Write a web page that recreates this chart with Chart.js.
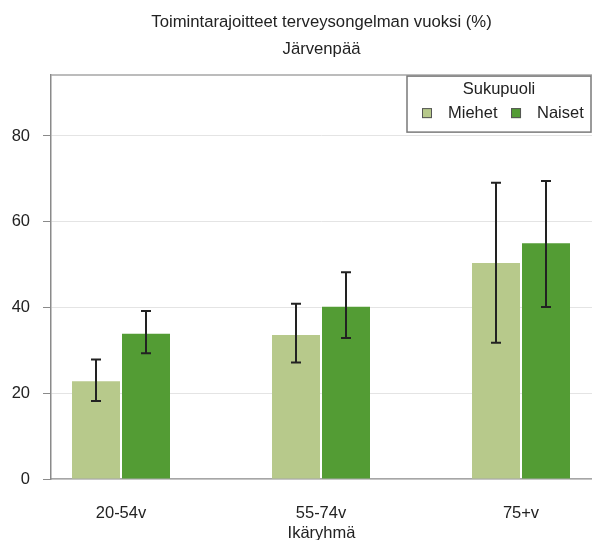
<!DOCTYPE html>
<html>
<head>
<meta charset="utf-8">
<script src="https://cdn.jsdelivr.net/npm/chart.js@4"></script>
<style>
  body { margin: 0; background: #fff; }
  #wrap { width: 592px; height: 540px; }
</style>
</head>
<body>
<div id="wrap"><canvas id="chart"></canvas></div>
<script>
// Values
const categories = ['20-54v', '55-74v', '75+v'];
const seriesLabels = ['Miehet', 'Naiset'];
const miehet = [22.8, 33.6, 50.4];
const miehetLow = [18.2, 27.2, 31.8];
const miehetHigh = [27.9, 40.9, 69.1];
const naiset = [33.9, 40.2, 55.0];
const naisetLow = [29.3, 32.9, 40.1];
const naisetHigh = [39.2, 48.2, 69.5];
const yTicks = [0, 20, 40, 60, 80];
const titleLines = ['Toimintarajoitteet terveysongelman vuoksi (%)', 'Järvenpää'];
const xTitle = 'Ikäryhmä';
const legendTitle = 'Sukupuoli';

const colors = ['#b7c98b', '#539c34'];
const FAMILY = "'Liberation Sans', Arial, sans-serif";
const FONT = { family: FAMILY, size: 16.5 };
const TEXT = '#222';

const toPoints = arr => arr.map((v, i) => ({ x: i, y: v }));

// confidence interval whiskers
const errorBars = {
  id: 'errorBars',
  afterDatasetsDraw(chart) {
    const ctx = chart.ctx;
    const y = chart.scales.y;
    chart.data.datasets.forEach((ds, di) => {
      const meta = chart.getDatasetMeta(di);
      meta.data.forEach((bar, i) => {
        const top = y.getPixelForValue(ds.high[i]);
        const bottom = y.getPixelForValue(ds.low[i]);
        ctx.save();
        ctx.strokeStyle = '#222';
        ctx.lineWidth = 2;
        ctx.beginPath();
        ctx.moveTo(bar.x, top); ctx.lineTo(bar.x, bottom);
        ctx.moveTo(bar.x - 5, top); ctx.lineTo(bar.x + 5, top);
        ctx.moveTo(bar.x - 5, bottom); ctx.lineTo(bar.x + 5, bottom);
        ctx.stroke();
        ctx.restore();
      });
    });
  }
};

// top edge of the plot frame
const frame = {
  id: 'frame',
  beforeDatasetsDraw(chart) {
    const { ctx, chartArea: a } = chart;
    ctx.save();
    ctx.strokeStyle = '#a6a6a6';
    ctx.lineWidth = 1.5;
    ctx.beginPath();
    ctx.moveTo(a.left, a.top);
    ctx.lineTo(a.right, a.top);
    ctx.stroke();
    ctx.restore();
  }
};

// boxed legend inside the plot, top right
const boxLegend = {
  id: 'boxLegend',
  afterDraw(chart) {
    const { ctx, chartArea } = chart;
    const w = 184, h = 56;
    const left = chartArea.right - w - 1, top = chartArea.top + 1;
    ctx.save();
    ctx.fillStyle = '#fff';
    ctx.fillRect(left, top, w, h);
    ctx.strokeStyle = '#7a7a7a';
    ctx.lineWidth = 1.5;
    ctx.strokeRect(left, top, w, h);
    ctx.font = `16.5px ${FAMILY}`;
    ctx.fillStyle = TEXT;
    ctx.textBaseline = 'middle';
    ctx.textAlign = 'center';
    ctx.fillText(legendTitle, left + w / 2, top + 13);
    ctx.textAlign = 'left';
    let x = left + 15;
    const yMid = top + 37;
    chart.data.datasets.forEach(ds => {
      ctx.fillStyle = ds.backgroundColor;
      ctx.fillRect(x, yMid - 5, 10, 10);
      ctx.strokeStyle = '#555';
      ctx.lineWidth = 1;
      ctx.strokeRect(x + 0.5, yMid - 4.5, 9, 9);
      ctx.fillStyle = TEXT;
      ctx.fillText(ds.label, x + 26, yMid);
      x += 26 + ctx.measureText(ds.label).width + 13.5;
    });
    ctx.restore();
  }
};

new Chart(document.getElementById('chart'), {
  type: 'bar',
  data: {
    datasets: [
      { label: seriesLabels[0], data: toPoints(miehet), low: miehetLow, high: miehetHigh, backgroundColor: colors[0] },
      { label: seriesLabels[1], data: toPoints(naiset), low: naisetLow, high: naisetHigh, backgroundColor: colors[1] }
    ]
  },
  options: {
    responsive: true,
    maintainAspectRatio: false,
    animation: false,
    layout: { padding: 0 },
    categoryPercentage: 0.5,
    barPercentage: 0.96,
    plugins: {
      legend: { display: false },
      tooltip: { enabled: false },
      title: {
        display: true,
        text: titleLines,
        fullSize: false,
        color: TEXT,
        font: { family: FAMILY, size: 16.7, weight: 'normal', lineHeight: 1.65 },
        padding: { top: 8.5, bottom: 11.5 }
      }
    },
    scales: {
      x: {
        type: 'linear',
        offset: false,
        min: -0.35,
        max: 2.355,
        afterBuildTicks: s => { s.ticks = categories.map((c, i) => ({ value: i })); },
        afterFit: s => { s.height = 61; },
        grid: { display: false, offset: false },
        border: { color: '#a6a6a6', width: 1.5 },
        ticks: { callback: v => categories[v], padding: 17, color: TEXT, font: FONT, maxRotation: 0, autoSkip: false },
        title: { display: true, text: xTitle, color: TEXT, font: { family: FAMILY, size: 16.5, lineHeight: 0.8 }, padding: { top: 0, bottom: 0 } }
      },
      y: {
        min: 0,
        max: 94.2,
        afterBuildTicks: s => { s.ticks = yTicks.map(v => ({ value: v })); },
        afterFit: s => { s.width = 51; },
        grid: { color: '#e4e4e4', tickColor: '#8a8a8a', tickLength: 8, lineWidth: 1 },
        border: { color: '#8a8a8a', width: 1.5 },
        ticks: { padding: 13, color: TEXT, font: FONT }
      }
    }
  },
  plugins: [frame, errorBars, boxLegend]
});
</script>
</body>
</html>
